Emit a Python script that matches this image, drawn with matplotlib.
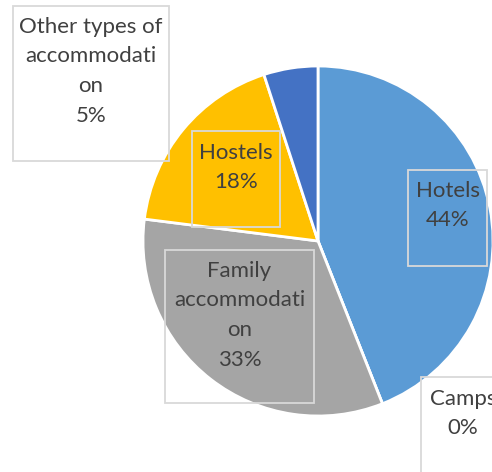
import matplotlib.pyplot as plt
from matplotlib.patches import Rectangle

# data
categories = ["Hotels", "Camps", "Family accommodation", "Hostels",
              "Other types of accommodation"]
shares = [44, 0, 33, 18, 5]
colors = ["#5B9BD5", "#ED7D31", "#A5A5A5", "#FFC000", "#4472C4"]

# how Excel wrapped each category name in its label box
wrapped = [["Hotels"], ["Camps"], ["Family", "accommodati", "on"],
           ["Hostels"], ["Other types of", "accommodati", "on"]]

W, H = 492, 472
TEXT = "#404040"
LINE = 29.5

# label boxes in pixel coords (left, top, right, bottom), first baseline
boxes = [(408, 170, 487, 266, 197),
         (421, 377, 505, 480, 405),
         (165, 250, 314, 403, 277),
         (192, 131, 280, 227, 159),
         (13, 6, 169, 161, 33)]

fig = plt.figure(figsize=(W / 100, H / 100), dpi=100)
ax = fig.add_axes([0, 0, 1, 1])

ax.pie(shares, colors=colors, startangle=90, counterclock=False,
       center=(318, H - 241), radius=175,
       wedgeprops=dict(edgecolor="white", linewidth=2))
ax.set_xlim(0, W)
ax.set_ylim(0, H)
ax.axis("off")

for name_lines, val, (l, t, r, b, y0) in zip(wrapped, shares, boxes):
    ax.add_patch(Rectangle((l, H - b), r - l, b - t, fill=False,
                           edgecolor="#D9D9D9", linewidth=1.3, clip_on=False))
    cx = (l + r) / 2
    for i, s in enumerate(name_lines + [f"{val}%"]):
        ax.text(cx, H - (y0 + i * LINE), s, ha="center", va="baseline",
                fontsize=16, color=TEXT, family="Lato")

fig.savefig("out.png", dpi=100)
